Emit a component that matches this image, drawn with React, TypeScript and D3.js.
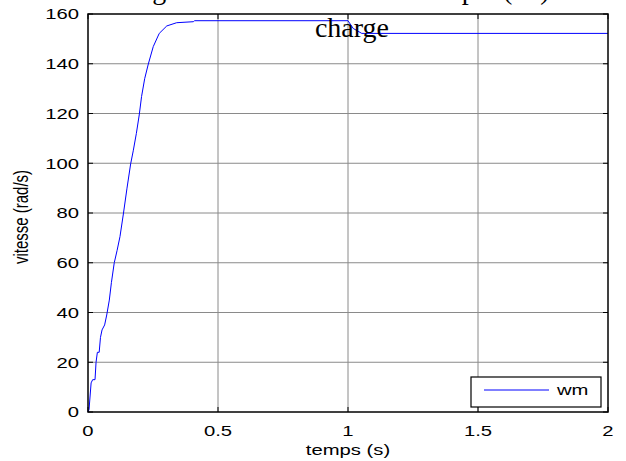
import React from 'react';
import * as d3 from 'd3';

// speed response wm (rad/s) vs time (s)
const timeS = [0, 0.004, 0.012, 0.018, 0.027, 0.031, 0.036, 0.043, 0.048, 0.054, 0.064, 0.072, 0.082, 0.09, 0.101, 0.112, 0.123, 0.136, 0.15, 0.164, 0.174, 0.186, 0.197, 0.206, 0.218, 0.232, 0.251, 0.274, 0.303, 0.341, 0.405, 0.41, 1.0, 1.02, 1.053, 2.0];
const wm = [0, 1, 11.7, 13, 13, 20, 24, 24, 30, 33, 35, 39, 45, 52, 60, 65, 70.5, 79.6, 90, 99.7, 105, 112, 119.4, 126.8, 134, 139.9, 146.9, 152.2, 155.2, 156.5, 156.9, 157.3, 157.3, 154.2, 152.2, 152.2];

const xTicks = [0, 0.5, 1, 1.5, 2];
const yTicks = [0, 20, 40, 60, 80, 100, 120, 140, 160];
const titleLines = ['Figure 2 : vitesse avec un couple (Cr) de', 'charge'];
const legendLabel = 'wm';

export default function App() {
  const W = 626;
  const H = 461;
  const margin = {top: 14, right: 18, bottom: 49, left: 88};
  const width = W - margin.left - margin.right;
  const height = H - margin.top - margin.bottom;

  const x = d3.scaleLinear().domain([0, 2]).range([0, width]);
  const y = d3.scaleLinear().domain([0, 160]).range([height, 0]);

  const line = d3.line<number>()
    .x((_, i) => x(timeS[i]))
    .y(d => y(d));

  const sans = 'Arial, "Liberation Sans", sans-serif';
  const serif = '"Times New Roman", "Liberation Serif", serif';
  const tickLen = 5;
  const sx = 1.35; // the original figure is stretched sideways

  return (
    <svg width={W} height={H} style={{position: 'absolute', left: 0, top: 0, background: '#fff'}}>
      <rect width={W} height={H} fill="#fff"/>
      <g transform={`translate(${margin.left},${margin.top})`}>
        {/* grid */}
        {xTicks.slice(1, -1).map(t => (
          <line key={'gx' + t} x1={x(t)} x2={x(t)} y1={0} y2={height} stroke="#8a8a8a" strokeWidth={1}/>
        ))}
        {yTicks.slice(1, -1).map(t => (
          <line key={'gy' + t} x1={0} x2={width} y1={y(t)} y2={y(t)} stroke="#8a8a8a" strokeWidth={1}/>
        ))}

        {/* inward ticks on all sides */}
        {xTicks.map(t => (
          <g key={'tx' + t}>
            <line x1={x(t)} x2={x(t)} y1={height} y2={height - tickLen} stroke="#000"/>
            <line x1={x(t)} x2={x(t)} y1={0} y2={tickLen} stroke="#000"/>
          </g>
        ))}
        {yTicks.map(t => (
          <g key={'ty' + t}>
            <line x1={0} x2={tickLen} y1={y(t)} y2={y(t)} stroke="#000"/>
            <line x1={width} x2={width - tickLen} y1={y(t)} y2={y(t)} stroke="#000"/>
          </g>
        ))}

        <path d={line(wm) || ''} fill="none" stroke="#0000ff" strokeWidth={1}/>

        <rect x={0} y={0} width={width} height={height} fill="none" stroke="#000" strokeWidth={1.5}/>

        {/* tick labels */}
        {xTicks.map(t => (
          <text key={'lx' + t} transform={`translate(${x(t)},${height + 24}) scale(${sx},1)`} textAnchor="middle" fontFamily={sans} fontSize={15}>
            {String(t)}
          </text>
        ))}
        {yTicks.map(t => (
          <text key={'ly' + t} transform={`translate(-9,${y(t)}) scale(${sx},1)`} dy="0.35em" textAnchor="end" fontFamily={sans} fontSize={15}>
            {String(t)}
          </text>
        ))}

        <text transform={`translate(${width / 2},${height + 43}) scale(${sx},1)`} textAnchor="middle" fontFamily={sans} fontSize={15}>temps (s)</text>
        <text transform={`translate(${-60},${height / 2 + 4}) scale(${sx},1) rotate(-90)`} textAnchor="middle" fontFamily={sans} fontSize={15}>
          vitesse (rad/s)
        </text>

        {/* legend */}
        <g transform={`translate(${width - 137},${height - 35})`}>
          <rect x={0} y={0} width={130} height={30} fill="#fff" stroke="#000" strokeWidth={1.2}/>
          <line x1={13} x2={78} y1={13} y2={13} stroke="#0000ff" strokeWidth={1}/>
          <text transform={`translate(86,18) scale(${sx},1)`} fontFamily={sans} fontSize={15}>{legendLabel}</text>
        </g>
      </g>

      {/* title, first line runs off the top edge */}
      <text x={margin.left + width / 2 + 8} y={-1} textAnchor="middle" fontFamily={serif} fontSize={28}>{titleLines[0]}</text>
      <text x={margin.left + width / 2 + 4} y={37} textAnchor="middle" fontFamily={serif} fontSize={28}>{titleLines[1]}</text>
    </svg>
  );
}
